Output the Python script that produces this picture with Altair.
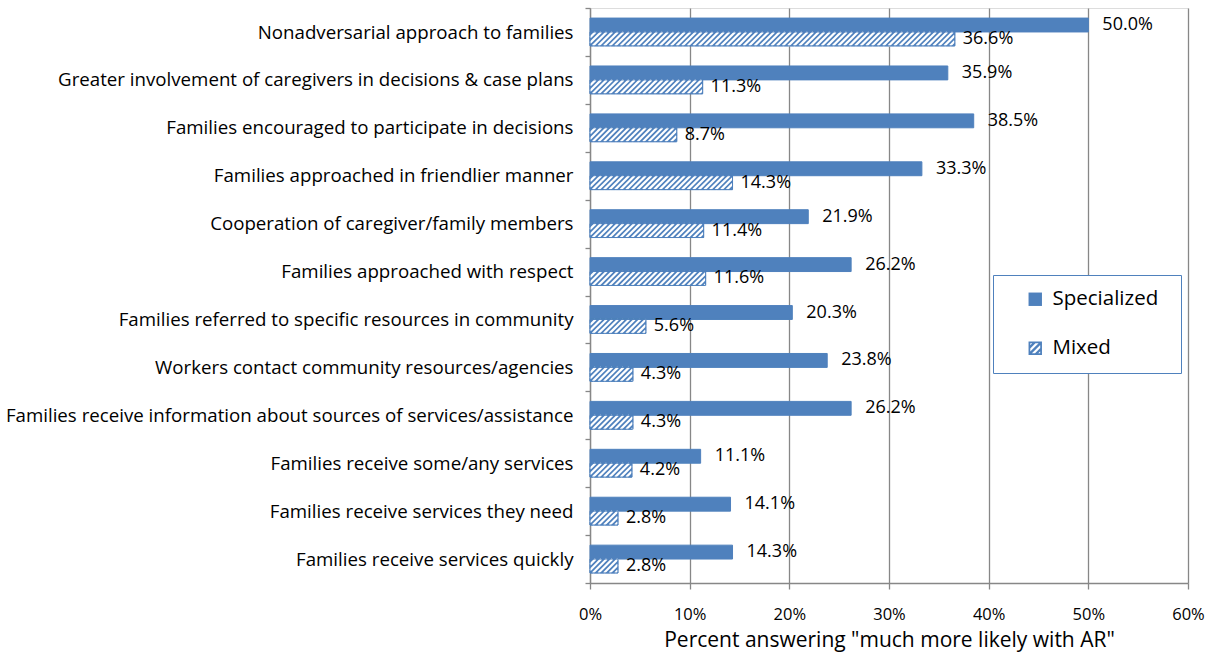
import json
import altair as alt
import pandas as pd

categories = [
    "Nonadversarial approach to families",
    "Greater involvement of caregivers in decisions & case plans",
    "Families encouraged to participate in decisions",
    "Families approached in friendlier manner",
    "Cooperation of caregiver/family members",
    "Families approached with respect",
    "Families referred to specific resources in community",
    "Workers contact community resources/agencies",
    "Families receive information about sources of services/assistance",
    "Families receive some/any services",
    "Families receive services they need",
    "Families receive services quickly",
]
specialized = [50.0, 35.9, 38.5, 33.3, 21.9, 26.2, 20.3, 23.8, 26.2, 11.1, 14.1, 14.3]
mixed = [36.6, 11.3, 8.7, 14.3, 11.4, 11.6, 5.6, 4.3, 4.3, 4.2, 2.8, 2.8]
series_names = ["Specialized", "Mixed"]
x_ticks = [0, 10, 20, 30, 40, 50, 60]
x_title = 'Percent answering "much more likely with AR"'

rows = []
for i, c in enumerate(categories):
    for name, vals in (("Specialized", specialized), ("Mixed", mixed)):
        rows.append({"idx": i, "category": c, "series": name,
                     "value": vals[i], "label": f"{vals[i]:.1f}%"})
df = pd.DataFrame(rows)

# ---- styling constants ----
BLUE = "#4F81BD"
GRID = "#878787"
FONT = "Open Sans"
BAR_H = 0.29      # bar thickness in band units
D = 1.4           # horizontal run of one hatch stripe (x units)
STEP = 0.56       # stripe spacing (x units)

# hatched legend symbol path (unit square -1..1)
def hatch_path():
    s = 0.74
    parts = ["M-1,-1L1,-1L1,1L-1,1Z", f"M{-s},{-s}L{-s},{s}L{s},{s}L{s},{-s}Z"]
    def band(c1, c2):
        if c2 <= 0:
            pts = [(c1 + s, -s), (c2 + s, -s), (-s, c2 + s), (-s, c1 + s)]
        elif c1 >= 0:
            pts = [(c1 - s, s), (s, c1 - s), (s, c2 - s), (c2 - s, s)]
        else:
            pts = [(c1 + s, -s), (s, -s), (s, c2 - s), (c2 - s, s), (-s, s), (-s, c1 + s)]
        return "M" + "L".join(f"{x:.3f},{y:.3f}" for x, y in pts) + "Z"
    for c in (-0.95, 0.0, 0.95):
        parts.append(band(c - 0.24, c + 0.24))
    return "".join(parts)

xs = alt.Scale(domain=[0, 60], nice=False, zero=True)
ys = alt.Scale(domain=[0, 12], reverse=True, nice=False, zero=False)

label_expr = ("datum.value < 12 ? " + json.dumps(categories) +
              "[datum.value] : ''")

x_axis = alt.Axis(values=x_ticks, labelExpr="datum.value + '%'", grid=True,
                  gridColor=GRID, gridWidth=1.3, domainColor=GRID, domainWidth=1.3,
                  tickColor=GRID, tickWidth=1.3, tickSize=6, labelFontSize=16.5,
                  labelColor="black", labelPadding=17, labelFlush=False,
                  title=x_title, titleFontSize=21, titleFontWeight="normal",
                  titleColor="black", titlePadding=7, labelFont=FONT, titleFont=FONT)
y_axis = alt.Axis(values=list(range(13)), labelExpr=label_expr, grid=False,
                  domainColor=GRID, domainWidth=1.3, tickColor=GRID, tickWidth=1.3,
                  tickSize=5, labelOffset=24, labelFontSize=18.7, labelColor="black",
                  labelPadding=12, labelLimit=800, labelBaseline="middle",
                  title=None, labelFont=FONT)

base = alt.Chart(df).transform_calculate(
    zero="0",
    y0=f"datum.series == 'Specialized' ? datum.idx + 0.5 - {BAR_H} : datum.idx + 0.5",
    y1=f"datum.series == 'Specialized' ? datum.idx + 0.5 : datum.idx + 0.5 + {BAR_H}",
).transform_calculate(ymid="(datum.y0 + datum.y1) / 2")

bars = base.mark_rect(fill=BLUE, stroke=BLUE, strokeWidth=1).encode(
    x=alt.X("value:Q", scale=xs, axis=x_axis),
    x2="zero:Q",
    y=alt.Y("y0:Q", scale=ys, axis=y_axis),
    y2="y1:Q",
)

stripes = alt.Chart(df).transform_filter("datum.series == 'Mixed'").transform_calculate(
    s=f"sequence({-D}, datum.value, {STEP})"
).transform_flatten(["s"]).transform_filter(
    f"datum.s < datum.value && datum.s + {D} > 0"
).transform_calculate(
    yb=f"datum.idx + 0.5 + {BAR_H}",
    yt="datum.idx + 0.5",
).transform_calculate(
    sx0="max(datum.s, 0)",
    sy0=f"datum.s < 0 ? datum.yb + (datum.yt - datum.yb) * (-datum.s / {D}) : datum.yb",
    sx1=f"min(datum.s + {D}, datum.value)",
    sy1=f"datum.s + {D} > datum.value ? datum.yb + (datum.yt - datum.yb) * ((datum.value - datum.s) / {D}) : datum.yt",
).mark_rule(color="white", strokeWidth=2.2).encode(
    x=alt.X("sx0:Q", scale=xs), x2="sx1:Q",
    y=alt.Y("sy0:Q", scale=ys), y2="sy1:Q",
)

outline = base.transform_filter("datum.series == 'Mixed'").mark_rect(
    fillOpacity=0, stroke=BLUE, strokeWidth=1
).encode(
    x=alt.X("value:Q", scale=xs), x2="zero:Q",
    y=alt.Y("y0:Q", scale=ys), y2="y1:Q",
)

text_s = base.transform_filter("datum.series == 'Specialized'").mark_text(
    align="left", baseline="middle", dx=14, fontSize=18, font=FONT, color="black"
).encode(x=alt.X("value:Q", scale=xs), y=alt.Y("ymid:Q", scale=ys), text="label:N")

text_m = base.transform_filter("datum.series == 'Mixed'").mark_text(
    align="left", baseline="middle", dx=8, fontSize=18, font=FONT, color="black"
).encode(x=alt.X("value:Q", scale=xs), y=alt.Y("ymid:Q", scale=ys), text="label:N")

legend_layer = base.mark_point(filled=True, opacity=0, color=BLUE).encode(
    x=alt.X("zero:Q", scale=xs),
    y=alt.Y("ymid:Q", scale=ys),
    shape=alt.Shape(
        "series:N",
        scale=alt.Scale(domain=series_names, range=["square", hatch_path()]),
        legend=alt.Legend(
            title="\u00a0", titleOrient="right", titlePadding=9, titleFontSize=10,
            orient="none", legendX=403, legendY=267,
            fillColor="white", strokeColor=BLUE, padding=14,
            symbolSize=180, symbolOpacity=1, symbolFillColor=BLUE,
            symbolStrokeWidth=0, symbolOffset=18, labelFontSize=20.5,
            labelFont=FONT, labelColor="black", rowPadding=28, labelOffset=7,
        ),
    ),
)

chart = alt.layer(bars, stripes, outline, text_s, text_m, legend_layer).properties(
    width=598, height=575,
    autosize=alt.AutoSizeParams(type="none"),
    padding={"left": 590, "top": 8, "right": 26, "bottom": 70},
).configure_view(stroke="transparent").configure(font=FONT)

chart.save("out.html", embed_options={"renderer": "svg", "actions": False})
